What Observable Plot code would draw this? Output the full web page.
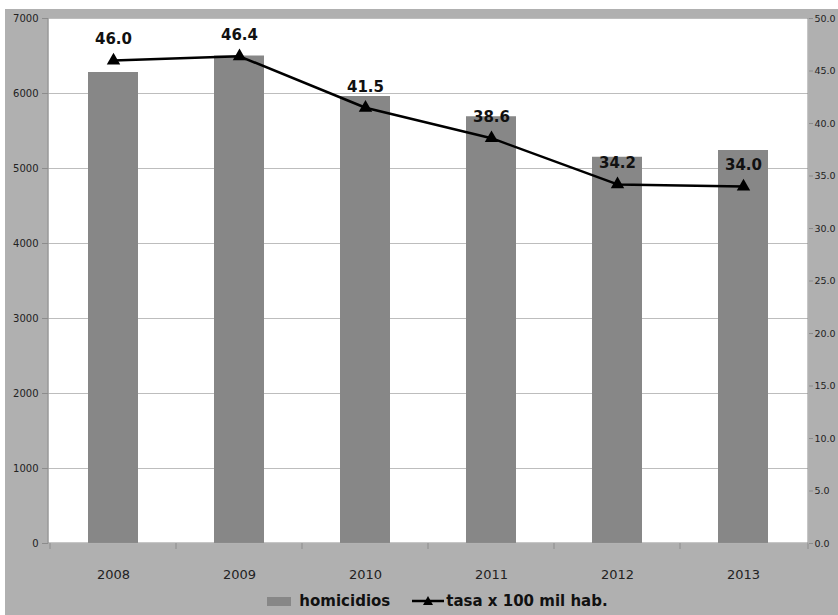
<!DOCTYPE html>
<html>
<head>
<meta charset="utf-8">
<script src="https://cdn.jsdelivr.net/npm/d3@7"></script>
<script src="https://cdn.jsdelivr.net/npm/@observablehq/plot@0.6"></script>
<style>
  html, body { margin: 0; padding: 0; background: #ffffff; overflow: hidden; }
  #wrap { position: absolute; left: 5px; top: 9px; width: 833px; height: 606px; background: #b0b0b0; font-family: "DejaVu Sans", sans-serif; }
  #legend { position: absolute; left: 10px; top: 583px; width: 845px; display: flex; justify-content: center; align-items: center; font-weight: bold; font-size: 15px; color: #111; gap: 6px; }
  .sw { display: inline-block; width: 24px; height: 9px; background: #878787; margin-right: 2px; }
</style>
</head>
<body>
<div id="wrap"><div id="chart"></div><div id="legend"></div></div>
<script>
const years = ["2008", "2009", "2010", "2011", "2012", "2013"];
const homicidios = [6280, 6500, 5960, 5690, 5150, 5240];
const tasa = [46.0, 46.4, 41.5, 38.6, 34.2, 34.0];
const leftTicks = [0, 1000, 2000, 3000, 4000, 5000, 6000, 7000];
const rightTicks = [0, 5, 10, 15, 20, 25, 30, 35, 40, 45, 50];
const ratio = 7000 / 50;

const rows = years.map((y, i) => ({year: y, homicidios: homicidios[i], tasa: tasa[i]}));

const boundaryTicks = (index, scales, values, dims) => {
  const g = d3.create("svg:g");
  const bw = scales.x.bandwidth();
  const step = scales.x.step();
  const y0 = dims.height - dims.marginBottom;
  const xs = years.map(y => scales.x(y) - (step - bw) / 2);
  xs.push(dims.width - dims.marginRight);
  for (const x of xs) {
    g.append("line").attr("x1", x).attr("x2", x).attr("y1", y0).attr("y2", y0 + 6)
      .attr("stroke", "#8c8c8c").attr("stroke-width", 1);
  }
  g.append("line").attr("x1", dims.marginLeft).attr("x2", dims.width - dims.marginRight)
    .attr("y1", y0).attr("y2", y0).attr("stroke", "#8c8c8c");
  g.append("line").attr("x1", dims.marginLeft).attr("x2", dims.marginLeft)
    .attr("y1", dims.marginTop).attr("y2", y0).attr("stroke", "#8c8c8c");
  g.append("line").attr("x1", dims.width - dims.marginRight).attr("x2", dims.width - dims.marginRight)
    .attr("y1", dims.marginTop).attr("y2", y0).attr("stroke", "#8c8c8c");
  return g.node();
};

const chart = Plot.plot({
  width: 833,
  height: 582,
  marginLeft: 43,
  marginRight: 30,
  marginTop: 9,
  marginBottom: 48,
  style: {background: "transparent", fontFamily: "DejaVu Sans, sans-serif", overflow: "visible"},
  x: {domain: years, paddingInner: 0.6, paddingOuter: 0.3, align: 0.5},
  y: {domain: [0, 7000]},
  marks: [
    Plot.frame({fill: "white", stroke: null}),
    Plot.ruleY(leftTicks.slice(1), {stroke: "#bdbdbd", strokeWidth: 1}),
    Plot.barY(rows, {x: "year", y: "homicidios", fill: "#878787"}),
    Plot.axisY({ticks: leftTicks, tickSize: 6, tickPadding: 4, fontSize: 10, stroke: "#8c8c8c", color: "#222", label: null, tickFormat: d => String(d)}),
    Plot.axisY({anchor: "right", ticks: rightTicks.map(t => t * ratio), tickSize: 4, tickPadding: 2, fontSize: 9.5, color: "#222", stroke: "#8c8c8c", label: null, tickFormat: d => (d / ratio).toFixed(1)}),
    Plot.axisX({tickSize: 0, tickPadding: 26, fontSize: 13, color: "#222", label: null}),
    boundaryTicks,
    Plot.line(rows, {x: "year", y: d => d.tasa * ratio, stroke: "#000", strokeWidth: 2.5}),
    Plot.dot(rows, {x: "year", y: d => d.tasa * ratio, symbol: "triangle", r: 5, fill: "#000"}),
    Plot.text(rows, {x: "year", y: d => d.tasa * ratio, text: d => d.tasa.toFixed(1), dy: -21, fontSize: 15, fontWeight: "bold", fill: "#111"})
  ]
});
document.getElementById("chart").appendChild(chart);

const legend = document.getElementById("legend");
legend.innerHTML = `<span class="sw"></span><span>homicidios</span>
<svg width="36" height="12" style="margin-left:16px"><line x1="0" y1="6" x2="32" y2="6" stroke="#000" stroke-width="2.5"/><path d="M16,1 L21,10 L11,10 Z" fill="#000"/></svg><span style="margin-left:-8px">tasa x 100 mil hab.</span>`;
</script>
</body>
</html>
